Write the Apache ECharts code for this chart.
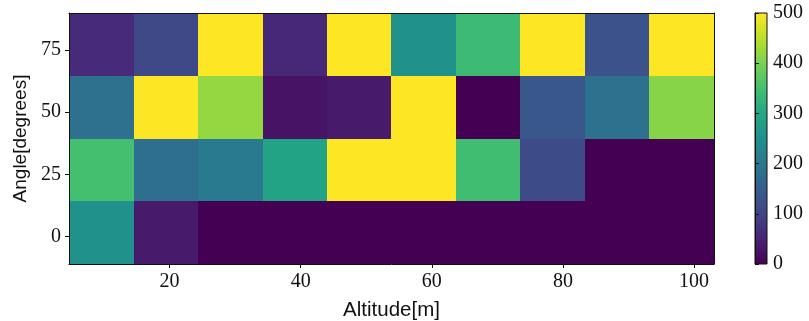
<!DOCTYPE html>
<html><head><meta charset="utf-8">
<script src="https://cdn.jsdelivr.net/npm/echarts@6/dist/echarts.min.js"></script>
<style>html,body{margin:0;padding:0;background:#fff}#c{width:809px;height:321px}</style>
</head><body><div id="c"></div>
<script>
// Bin edges (data units)
const altitudeEdges = [4.66, 14.5, 24.34, 34.18, 44.01, 53.85, 63.69, 73.53, 83.37, 93.21, 103.05];
const angleEdges = [-11.1, 14.15, 39.4, 64.65, 89.9];
// Tick labels
const altitudeTicks = [20, 40, 60, 80, 100];
const angleTicks = [0, 25, 50, 75];
const colorbarTicks = [0, 100, 200, 300, 400, 500];
// Counts per angle row (one value per altitude bin)
const countsAngle0  = [250, 35, 0, 0, 0, 0, 0, 0, 0, 0];
const countsAngle25 = [350, 180, 205, 290, 500, 500, 345, 115, 0, 0];
const countsAngle50 = [185, 500, 420, 25, 35, 500, 0, 135, 185, 410];
const countsAngle75 = [60, 110, 500, 55, 500, 250, 340, 500, 125, 500];

const rows = [countsAngle0, countsAngle25, countsAngle50, countsAngle75];
const cells = [];
rows.forEach((row, i) => row.forEach((v, j) => {
  cells.push([altitudeEdges[j], altitudeEdges[j + 1], angleEdges[i], angleEdges[i + 1], v]);
}));

const viridis = ['#440154','#482475','#414487','#355f8d','#2a788e','#21918c','#22a884','#44bf70','#7ad151','#bddf26','#fde725'];
const serif = 'Liberation Serif';
const sans = 'Liberation Sans';
const ink = '#111';

const chart = echarts.init(document.getElementById('c'), null, {renderer: 'canvas'});
const xMin = altitudeEdges[0], xMax = altitudeEdges[altitudeEdges.length - 1];
const yMin = angleEdges[0], yMax = angleEdges[angleEdges.length - 1];

function snapRect(api) {
  const p0 = api.coord([api.value(0), api.value(3)]);
  const p1 = api.coord([api.value(1), api.value(2)]);
  const x0 = Math.round(p0[0]), y0 = Math.round(p0[1]);
  const x1 = Math.round(p1[0]), y1 = Math.round(p1[1]);
  return {x: x0, y: y0, width: x1 - x0, height: y1 - y0};
}

chart.setOption({
  animation: false,
  backgroundColor: '#fff',
  grid: [
    {left: 69, top: 13, width: 645, height: 251, outerBoundsMode: 'none', containLabel: false},
    {left: 755, top: 13, width: 12, height: 251, outerBoundsMode: 'none', containLabel: false}
  ],
  visualMap: {
    type: 'continuous', show: false, min: 0, max: 500, dimension: 4, seriesIndex: 0,
    inRange: {color: viridis}
  },
  xAxis: [
    {type: 'value', gridIndex: 0, min: xMin, max: xMax, z: 5,
     name: 'Altitude[m]', nameLocation: 'middle', nameGap: 36,
     nameTextStyle: {fontFamily: sans, fontSize: 20.5, color: ink},
     axisLine: {show: true, onZero: false, lineStyle: {color: ink, width: 1}},
     axisTick: {show: true, length: 4, lineStyle: {color: ink}, customValues: altitudeTicks},
     axisLabel: {fontFamily: serif, fontSize: 20, color: ink, margin: 8, customValues: altitudeTicks},
     splitLine: {show: false}},
    {type: 'value', gridIndex: 0, position: 'top', min: xMin, max: xMax, z: 5,
     axisLine: {show: true, onZero: false, lineStyle: {color: ink, width: 1}},
     axisTick: {show: false}, axisLabel: {show: false}, splitLine: {show: false}},
    {type: 'value', gridIndex: 1, min: 0, max: 1, show: false}
  ],
  yAxis: [
    {type: 'value', gridIndex: 0, min: yMin, max: yMax, z: 5,
     name: 'Angle[degrees]', nameLocation: 'middle', nameGap: 37, nameRotate: 90,
     nameTextStyle: {fontFamily: sans, fontSize: 19, color: ink},
     axisLine: {show: true, onZero: false, lineStyle: {color: ink, width: 1}},
     axisTick: {show: true, length: 4, lineStyle: {color: ink}, customValues: angleTicks},
     axisLabel: {fontFamily: serif, fontSize: 20, color: ink, margin: 8, customValues: angleTicks},
     splitLine: {show: false}},
    {type: 'value', gridIndex: 0, position: 'right', min: yMin, max: yMax, z: 5,
     axisLine: {show: true, onZero: false, lineStyle: {color: ink, width: 1}},
     axisTick: {show: false}, axisLabel: {show: false}, splitLine: {show: false}},
    {type: 'value', gridIndex: 1, position: 'right', min: 0, max: 500, interval: 100, z: 5,
     axisLine: {show: true, lineStyle: {color: ink, width: 1}},
     axisTick: {show: true, length: 4, lineStyle: {color: ink}},
     axisLabel: {fontFamily: serif, fontSize: 20, color: ink, margin: 6, customValues: colorbarTicks},
     splitLine: {show: false}}
  ],
  series: [
    {
      type: 'custom', xAxisIndex: 0, yAxisIndex: 0, z: 1,
      encode: {x: [0, 1], y: [2, 3]},
      data: cells,
      renderItem: function (params, api) {
        return {type: 'rect', shape: snapRect(api), style: {fill: api.visual('color')}};
      }
    },
    {
      type: 'custom', xAxisIndex: 2, yAxisIndex: 2, z: 1,
      encode: {x: [0, 1], y: [2, 3]},
      data: [[0, 1, colorbarTicks[0], colorbarTicks[colorbarTicks.length - 1]]],
      renderItem: function (params, api) {
        const stops = viridis.map((c, i) => ({offset: i / (viridis.length - 1), color: c}));
        return {type: 'rect', shape: snapRect(api),
                style: {fill: new echarts.graphic.LinearGradient(0, 1, 0, 0, stops), stroke: ink, lineWidth: 1}};
      }
    }
  ]
});
</script></body></html>
